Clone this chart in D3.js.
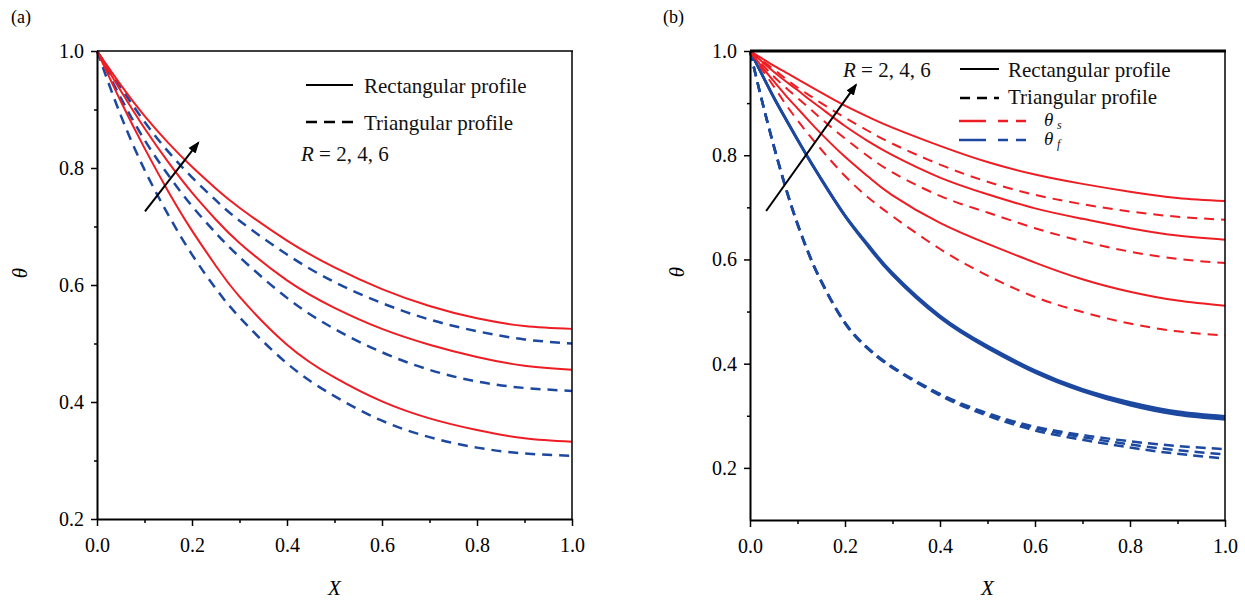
<!DOCTYPE html>
<html>
<head>
<meta charset="utf-8">
<script src="https://cdn.jsdelivr.net/npm/d3@7"></script>
<style>
  body { margin: 0; background: #fff; }
</style>
</head>
<body>
<div id="chart"></div>
<script>
// ---- data ----
// panel (a): X grid
const xA = [0, 0.05, 0.1, 0.15, 0.2, 0.25, 0.3, 0.4, 0.5, 0.6, 0.7, 0.8, 0.9, 1.0];
// rectangular profile (solid red), R = 2, 4, 6
const rectA2 = [1, 0.914, 0.834, 0.76, 0.693, 0.633, 0.58, 0.498, 0.442, 0.401, 0.372, 0.352, 0.338, 0.332];
const rectA4 = [1, 0.932, 0.868, 0.81, 0.758, 0.712, 0.672, 0.608, 0.561, 0.525, 0.498, 0.477, 0.462, 0.455];
const rectA6 = [1, 0.942, 0.889, 0.843, 0.802, 0.765, 0.732, 0.676, 0.63, 0.593, 0.564, 0.543, 0.53, 0.525];
// triangular profile (dashed blue), R = 2, 4, 6
const triA2 = [1, 0.89, 0.797, 0.72, 0.652, 0.594, 0.545, 0.466, 0.41, 0.368, 0.34, 0.322, 0.312, 0.308];
const triA4 = [1, 0.92, 0.848, 0.788, 0.735, 0.689, 0.648, 0.578, 0.525, 0.485, 0.455, 0.435, 0.424, 0.419];
const triA6 = [1, 0.938, 0.879, 0.828, 0.784, 0.745, 0.71, 0.652, 0.605, 0.569, 0.541, 0.521, 0.507, 0.5];

// panel (b): X grid (finer near the wall, theta_f drops fast)
const xB = [0, 0.025, 0.05, 0.075, 0.1, 0.125, 0.15, 0.2, 0.25, 0.3, 0.4, 0.5, 0.6, 0.7, 0.8, 0.9, 1.0];
// theta_s (red)
const rectS2 = [1, 0.97, 0.942, 0.915, 0.89, 0.865, 0.841, 0.797, 0.758, 0.723, 0.67, 0.63, 0.594, 0.562, 0.538, 0.521, 0.511];
const rectS4 = [1, 0.98, 0.96, 0.942, 0.925, 0.907, 0.89, 0.856, 0.826, 0.8, 0.757, 0.725, 0.698, 0.678, 0.66, 0.646, 0.638];
const rectS6 = [1, 0.986, 0.972, 0.959, 0.946, 0.933, 0.92, 0.895, 0.873, 0.853, 0.818, 0.787, 0.763, 0.745, 0.73, 0.718, 0.712];
const triS2 = [1, 0.965, 0.932, 0.898, 0.867, 0.838, 0.811, 0.76, 0.718, 0.683, 0.62, 0.569, 0.528, 0.499, 0.477, 0.462, 0.454];
const triS4 = [1, 0.975, 0.951, 0.93, 0.91, 0.89, 0.87, 0.832, 0.797, 0.767, 0.722, 0.69, 0.66, 0.635, 0.615, 0.601, 0.593];
const triS6 = [1, 0.982, 0.965, 0.947, 0.93, 0.915, 0.9, 0.872, 0.846, 0.822, 0.782, 0.749, 0.724, 0.706, 0.692, 0.682, 0.676];
// theta_f (blue), the three R values almost sit on top of each other
const rectF2 = [1, 0.955, 0.91, 0.869, 0.829, 0.79, 0.753, 0.683, 0.623, 0.57, 0.488, 0.43, 0.383, 0.347, 0.32, 0.302, 0.293];
const rectF4 = [1, 0.955, 0.911, 0.87, 0.83, 0.791, 0.754, 0.684, 0.625, 0.572, 0.49, 0.432, 0.385, 0.349, 0.323, 0.305, 0.296];
const rectF6 = [1, 0.956, 0.912, 0.871, 0.831, 0.792, 0.755, 0.685, 0.627, 0.574, 0.492, 0.434, 0.387, 0.351, 0.326, 0.308, 0.299];
const triF2 = [1, 0.905, 0.817, 0.737, 0.667, 0.607, 0.557, 0.477, 0.427, 0.392, 0.339, 0.3, 0.272, 0.254, 0.239, 0.227, 0.218];
const triF4 = [1, 0.905, 0.818, 0.738, 0.668, 0.608, 0.558, 0.478, 0.428, 0.393, 0.341, 0.303, 0.276, 0.259, 0.245, 0.234, 0.226];
const triF6 = [1, 0.906, 0.819, 0.739, 0.669, 0.609, 0.559, 0.479, 0.429, 0.394, 0.342, 0.305, 0.279, 0.263, 0.251, 0.242, 0.236];

const yTicks = [0.2, 0.4, 0.6, 0.8, 1.0];
const xTicks = [0, 0.2, 0.4, 0.6, 0.8, 1.0];

const RED = '#ee1d23';
const BLUE = '#1c48a0';
const SERIF = '"Liberation Serif", "Times New Roman", serif';

class Panel {

  constructor(opts) {
    this.svg = opts.svg;
    this.box = opts.box;
    this.xs = opts.xs;
    this.yDomain = opts.yDomain;
    this.yMinor = opts.yMinor;
    this.series = opts.series;
    this.arrow = opts.arrow;
    this.topWidth = opts.topWidth || 1.5;
    this.draw();
  }

  draw() {
    this.createScales();
    this.addLines();
    this.addAxes();
    this.addArrow();
  }

  createScales() {
    const b = this.box;
    this.xScale = d3.scaleLinear().domain([0, 1]).range([b.left, b.right]);
    this.yScale = d3.scaleLinear().domain(this.yDomain).range([b.bottom, b.top]);
  }

  // d3 puts sans-serif 10px on the axis group, so put the serif back
  styleAxis(g) {
    g.attr('font-family', SERIF).attr('font-size', 20);
    g.selectAll('.tick text').attr('fill', '#000').style('font-family', SERIF);
    g.selectAll('.tick line').attr('stroke', '#000').attr('stroke-width', 1.5);
    g.select('.domain').attr('stroke', '#000').attr('stroke-width', 2);
  }

  addAxes() {
    const b = this.box;
    const fmt = d3.format('.1f');

    // major ticks with labels
    this.svg.append('g')
      .attr('transform', `translate(0,${b.bottom})`)
      .call(d3.axisBottom(this.xScale).tickValues(xTicks).tickFormat(fmt)
        .tickSize(7).tickSizeOuter(0).tickPadding(12))
      .call(g => this.styleAxis(g));

    this.svg.append('g')
      .attr('transform', `translate(${b.left},0)`)
      .call(d3.axisLeft(this.yScale).tickValues(yTicks).tickFormat(fmt)
        .tickSize(6).tickSizeOuter(0).tickPadding(7))
      .call(g => this.styleAxis(g));

    // minor ticks, no labels
    this.svg.append('g')
      .attr('transform', `translate(0,${b.bottom})`)
      .call(d3.axisBottom(this.xScale).tickValues([0.1, 0.3, 0.5, 0.7, 0.9]).tickFormat('')
        .tickSize(4).tickSizeOuter(0))
      .call(g => this.styleAxis(g))
      .call(g => g.select('.domain').remove());

    this.svg.append('g')
      .attr('transform', `translate(${b.left},0)`)
      .call(d3.axisLeft(this.yScale).tickValues(this.yMinor).tickFormat('')
        .tickSize(3).tickSizeOuter(0))
      .call(g => this.styleAxis(g))
      .call(g => g.select('.domain').remove());

    // top and right frame
    this.svg.append('line')
      .attr('x1', b.left).attr('x2', b.right + 1)
      .attr('y1', b.top).attr('y2', b.top)
      .attr('stroke', '#000').attr('stroke-width', this.topWidth);
    this.svg.append('line')
      .attr('x1', b.right).attr('x2', b.right)
      .attr('y1', b.top).attr('y2', b.bottom)
      .attr('stroke', '#000').attr('stroke-width', 1.5);
  }

  addLines() {
    // natural spline keeps the decay curves smooth between read points
    const line = d3.line()
      .x(d => this.xScale(d[0]))
      .y(d => this.yScale(d[1]))
      .curve(d3.curveNatural);

    this.svg.append('g')
      .selectAll('path')
      .data(this.series)
      .enter().append('path')
        .attr('fill', 'none')
        .attr('stroke', d => d.color)
        .attr('stroke-width', d => d.width)
        .attr('stroke-dasharray', d => d.dash || null)
        .attr('d', d => line(this.xs.map((x, i) => [x, d.values[i]])));
  }

  addArrow() {
    const a = this.arrow;
    this.svg.append('line')
      .attr('x1', this.xScale(a.x1)).attr('y1', this.yScale(a.y1))
      .attr('x2', this.xScale(a.x2)).attr('y2', this.yScale(a.y2))
      .attr('stroke', '#000').attr('stroke-width', 2)
      .attr('marker-end', 'url(#arrowhead)');
  }
}

const svg = d3.select('#chart').append('svg')
  .attr('width', 1245)
  .attr('height', 603)
  .attr('font-family', SERIF)
  .style('font-family', SERIF);

svg.append('defs').append('marker')
  .attr('id', 'arrowhead')
  .attr('viewBox', '0 -5 12 10')
  .attr('refX', 10).attr('refY', 0)
  .attr('markerWidth', 12).attr('markerHeight', 10)
  .attr('markerUnits', 'userSpaceOnUse')
  .attr('orient', 'auto')
  .append('path')
    .attr('d', 'M0,-4.5L12,0L0,4.5Z')
    .attr('fill', '#000');

// ---- panel (a) ----
const panelA = new Panel({
  svg: svg,
  box: { left: 97, right: 572, top: 51, bottom: 519 },
  xs: xA,
  yDomain: [0.2, 1.0],
  yMinor: [0.3, 0.5, 0.7, 0.9],
  arrow: { x1: 0.101, y1: 0.726, x2: 0.213, y2: 0.843 },
  series: [
    { values: triA2, color: BLUE, width: 2.5, dash: '10,7' },
    { values: triA4, color: BLUE, width: 2.5, dash: '10,7' },
    { values: triA6, color: BLUE, width: 2.5, dash: '10,7' },
    { values: rectA2, color: RED, width: 2 },
    { values: rectA4, color: RED, width: 2 },
    { values: rectA6, color: RED, width: 2 }
  ]
});

// ---- panel (b) ----
const panelB = new Panel({
  svg: svg,
  box: { left: 750, right: 1225, top: 51, bottom: 520 },
  xs: xB,
  yDomain: [0.1, 1.0],
  yMinor: [0.3, 0.5, 0.7, 0.9],
  topWidth: 3,
  arrow: { x1: 0.034, y1: 0.693, x2: 0.223, y2: 0.935 },
  series: [
    { values: triF2, color: BLUE, width: 2.5, dash: '10,6' },
    { values: triF4, color: BLUE, width: 2.5, dash: '10,6' },
    { values: triF6, color: BLUE, width: 2.5, dash: '10,6' },
    { values: rectF2, color: BLUE, width: 2.5 },
    { values: rectF4, color: BLUE, width: 2.5 },
    { values: rectF6, color: BLUE, width: 2.5 },
    { values: triS2, color: RED, width: 2, dash: '10,7' },
    { values: triS4, color: RED, width: 2, dash: '10,7' },
    { values: triS6, color: RED, width: 2, dash: '10,7' },
    { values: rectS2, color: RED, width: 2 },
    { values: rectS4, color: RED, width: 2 },
    { values: rectS6, color: RED, width: 2 }
  ]
});

// ---- titles / axis labels ----
svg.append('text').attr('x', 11).attr('y', 23).attr('font-size', 18).text('(a)');
svg.append('text').attr('x', 663).attr('y', 23).attr('font-size', 18).text('(b)');

[[334.5, 595], [987.5, 595]].forEach(p => {
  svg.append('text')
    .attr('x', p[0]).attr('y', p[1])
    .attr('text-anchor', 'middle')
    .attr('font-size', 21).attr('font-style', 'italic')
    .text('X');
});

[[27, 273], [684, 272]].forEach(p => {
  svg.append('text')
    .attr('transform', `translate(${p[0]},${p[1]}) rotate(-90)`)
    .attr('text-anchor', 'middle')
    .attr('font-size', 21).attr('font-style', 'italic')
    .text('θ');
});

// ---- legend (a) ----
const legA = svg.append('g').attr('font-size', 21).attr('fill', '#111');
legA.append('line').attr('x1', 306).attr('x2', 353).attr('y1', 85).attr('y2', 85)
  .attr('stroke', '#000').attr('stroke-width', 2);
legA.append('text').attr('x', 364).attr('y', 93).text('Rectangular profile');
legA.append('line').attr('x1', 306).attr('x2', 353).attr('y1', 122).attr('y2', 122)
  .attr('stroke', '#000').attr('stroke-width', 2.5).attr('stroke-dasharray', '11,7');
legA.append('text').attr('x', 364).attr('y', 130).text('Triangular profile');
const rA = legA.append('text').attr('x', 301).attr('y', 161);
rA.append('tspan').attr('font-style', 'italic').text('R');
rA.append('tspan').text(' = 2, 4, 6');

// ---- legend (b) ----
const legB = svg.append('g').attr('font-size', 21).attr('fill', '#111');
const rB = legB.append('text').attr('x', 843).attr('y', 77);
rB.append('tspan').attr('font-style', 'italic').text('R');
rB.append('tspan').text(' = 2, 4, 6');

legB.append('line').attr('x1', 960).attr('x2', 999).attr('y1', 69).attr('y2', 69)
  .attr('stroke', '#000').attr('stroke-width', 2);
legB.append('text').attr('x', 1008).attr('y', 77).text('Rectangular profile');
legB.append('line').attr('x1', 960).attr('x2', 999).attr('y1', 98).attr('y2', 98)
  .attr('stroke', '#000').attr('stroke-width', 2.5).attr('stroke-dasharray', '10,7');
legB.append('text').attr('x', 1008).attr('y', 104).text('Triangular profile');

[[121, RED, 's'], [140, BLUE, 'f']].forEach(r => {
  legB.append('line').attr('x1', 959).attr('x2', 986).attr('y1', r[0]).attr('y2', r[0])
    .attr('stroke', r[1]).attr('stroke-width', 2.5);
  legB.append('line').attr('x1', 998).attr('x2', 1028).attr('y1', r[0]).attr('y2', r[0])
    .attr('stroke', r[1]).attr('stroke-width', 2.5).attr('stroke-dasharray', '10,8');
  legB.append('text').attr('x', 1044).attr('y', r[0] + 5)
    .attr('font-style', 'italic').attr('font-size', 19).text('θ');
  legB.append('text').attr('x', 1057).attr('y', r[0] + 8)
    .attr('font-style', 'italic').attr('font-size', 12).text(r[2]);
});
</script>
</body>
</html>
